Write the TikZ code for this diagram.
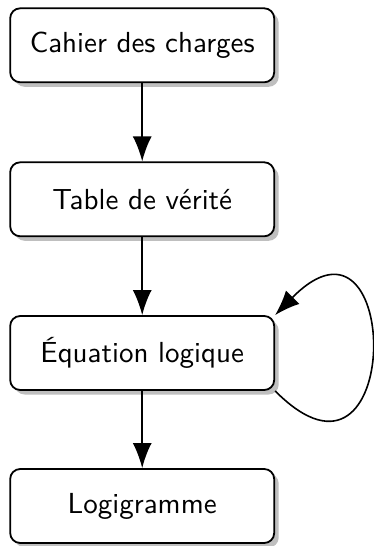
\documentclass[tikz,border=0pt]{standalone}
\usepackage{fontspec}
\newfontfamily\stagefont{lmsans10-regular.otf}
\usetikzlibrary{arrows.meta,shadows,calc}
\begin{document}
\begin{tikzpicture}[x=1pt,y=-1pt,
  stage/.style={draw, line width=1.8pt, rounded corners=10pt, fill=white,
    minimum width=264pt, minimum height=74pt, inner sep=0pt,
    font=\stagefont\fontsize{29}{34}\selectfont,
    drop shadow={shadow xshift=4.5pt, shadow yshift=-4.5pt, fill=black!25, opacity=1}},
  flow/.style={line width=1.8pt, -{Latex[length=25pt,width=19pt]}}]
  \useasboundingbox (0,0) rectangle (373,546);
  \node[stage] (cdc) at (142.2,45.3)  {Cahier des charges};
  \node[stage] (tv)  at (142.2,199.3) {Table de vérité};
  \node[stage] (eq)  at (142.2,353)   {Équation logique};
  \node[stage] (lg)  at (142.2,506)   {Logigramme};
  \draw[flow] (cdc) -- (tv);
  \draw[flow] (tv) -- (eq);
  \draw[flow] (eq) -- (lg);
  \draw[flow, line width=1.6pt] (eq.south east)
    .. controls ($(eq.south east)+(129,130)$) and ($(eq.north east)+(128,-130)$)
    .. (eq.north east);
\end{tikzpicture}
\end{document}
